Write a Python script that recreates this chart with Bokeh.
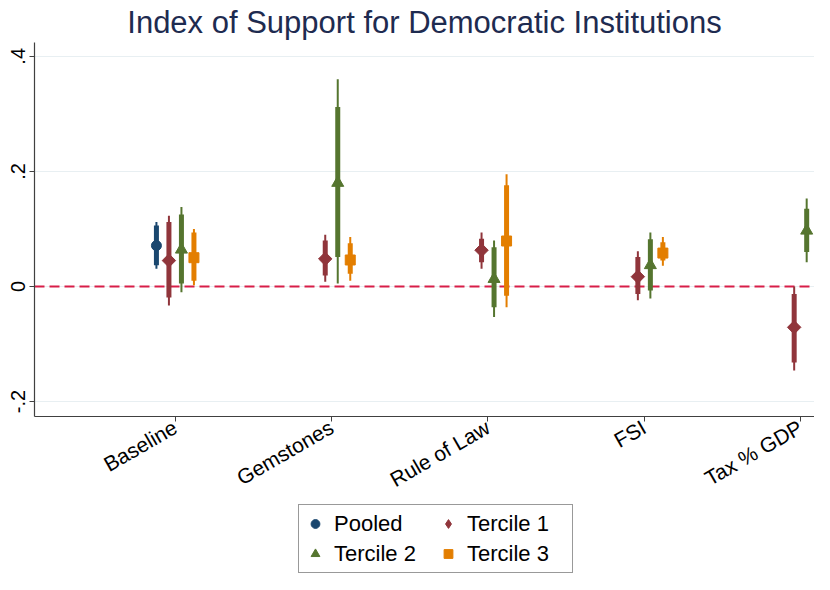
import numpy as np
from bokeh.plotting import figure
from bokeh.layouts import column
from bokeh.models import Range1d, FixedTicker, Span, Legend, LegendItem, ColumnDataSource
from bokeh.embed import file_html
from bokeh.resources import INLINE

# ---------------- data ----------------
categories = ["Baseline", "Gemstones", "Rule of Law", "FSI", "Tax % GDP"]
y_ticks = [-0.2, 0.0, 0.2, 0.4]
y_tick_labels = ["-.2", "0", ".2", ".4"]
series_names = ["Pooled", "Tercile 1", "Tercile 2", "Tercile 3"]

nan = float("nan")
# point estimates
pooled_est = [0.071, nan, nan, nan, nan]
t1_est = [0.045, 0.048, 0.063, 0.017, -0.071]
t2_est = [0.064, 0.180, 0.013, 0.037, 0.097]
t3_est = [0.050, 0.046, 0.079, 0.058, nan]
# 95% confidence intervals (thin)
pooled_lo95 = [0.031, nan, nan, nan, nan]
pooled_hi95 = [0.112, nan, nan, nan, nan]
t1_lo95 = [-0.033, 0.008, 0.031, -0.024, -0.146]
t1_hi95 = [0.123, 0.090, 0.094, 0.061, 0.000]
t2_lo95 = [-0.010, 0.005, -0.053, -0.021, 0.042]
t2_hi95 = [0.138, 0.360, 0.080, 0.094, 0.153]
t3_lo95 = [0.002, 0.010, -0.036, 0.036, nan]
t3_hi95 = [0.100, 0.086, 0.195, 0.086, nan]
# 90% confidence intervals (thick)
pooled_lo90 = [0.037, nan, nan, nan, nan]
pooled_hi90 = [0.106, nan, nan, nan, nan]
t1_lo90 = [-0.019, 0.019, 0.042, -0.013, -0.132]
t1_hi90 = [0.112, 0.080, 0.083, 0.051, -0.013]
t2_lo90 = [0.005, 0.051, -0.036, -0.007, 0.060]
t2_hi90 = [0.125, 0.312, 0.068, 0.082, 0.135]
t3_lo90 = [0.010, 0.022, -0.016, 0.045, nan]
t3_hi90 = [0.094, 0.075, 0.176, 0.077, nan]

# ---------------- styles ----------------
styles = [
    dict(color="#1a476f", marker="circle", size=10, angle=0.0, lmarker="circle", offset=-0.12),
    dict(color="#90353b", marker="square", size=9.5, angle=np.pi / 4, lmarker="diamond", offset=-0.04),
    dict(color="#55752f", marker="triangle", size=12, angle=0.0, lmarker="triangle", offset=0.04),
    dict(color="#e37e00", marker="square", size=10, angle=0.0, lmarker="square", offset=0.12),
]
data = [
    (pooled_est, pooled_lo95, pooled_hi95, pooled_lo90, pooled_hi90),
    (t1_est, t1_lo95, t1_hi95, t1_lo90, t1_hi90),
    (t2_est, t2_lo95, t2_hi95, t2_lo90, t2_hi90),
    (t3_est, t3_lo95, t3_hi95, t3_lo90, t3_hi90),
]

FONT = "Liberation Sans"

p = figure(width=814, height=503, output_backend="svg", toolbar_location=None,
           x_range=Range1d(0.1, 5.09), y_range=Range1d(-0.226, 0.424),
           min_border_left=34, min_border_right=0, min_border_top=34)
p.background_fill_color = "white"
p.border_fill_color = "white"
p.outline_line_color = None

p.title.text = "Index of Support for Democratic Institutions"
p.title.align = "center"
p.title.offset = 14
p.title.text_font = FONT
p.title.text_font_size = "31px"
p.title.text_font_style = "normal"
p.title.text_color = "#1e2b50"
p.title.standoff = 5

# axes
p.xaxis.ticker = FixedTicker(ticks=list(range(1, len(categories) + 1)))
p.xaxis.major_label_overrides = {i + 1: c for i, c in enumerate(categories)}
p.xaxis.major_label_orientation = np.pi / 6
p.yaxis.ticker = FixedTicker(ticks=y_ticks)
p.yaxis.major_label_overrides = {t: l for t, l in zip(y_ticks, y_tick_labels)}
p.yaxis.major_label_orientation = "vertical"
for ax in (p.xaxis, p.yaxis):
    ax.axis_line_color = "#404040"
    ax.axis_line_width = 1.2
    ax.major_tick_line_color = "#404040"
    ax.major_tick_in = 0
    ax.major_tick_out = 5
    ax.minor_tick_line_color = None
    ax.major_label_text_font = FONT
    ax.major_label_text_color = "black"
    ax.major_label_standoff = 4
p.xaxis.major_label_text_font_size = "21px"
p.yaxis.major_label_text_font_size = "20px"

p.xgrid.grid_line_color = None
p.ygrid.grid_line_color = "#e8eff2"
p.ygrid.grid_line_width = 1.2

zero = Span(location=0, dimension="width", line_color="#d81e48", line_width=2,
            line_dash="10 5", level="underlay")
p.add_layout(zero)

for st, (est, lo95, hi95, lo90, hi90) in zip(styles, data):
    xs = np.arange(1, len(categories) + 1) + st["offset"]
    src = ColumnDataSource(dict(x=xs, est=est, lo95=lo95, hi95=hi95, lo90=lo90, hi90=hi90))
    p.segment(x0="x", y0="lo95", x1="x", y1="hi95", source=src,
              line_color=st["color"], line_width=2)
    p.segment(x0="x", y0="lo90", x1="x", y1="hi90", source=src,
              line_color=st["color"], line_width=5, line_cap="butt")
    p.scatter(x="x", y="est", source=src, marker=st["marker"], size=st["size"],
              angle=st["angle"], fill_color=st["color"], line_color=st["color"])

# ---------------- legend strip ----------------
leg = figure(width=814, height=71, output_backend="svg", toolbar_location=None,
             x_range=Range1d(0, 1), y_range=Range1d(0, 1),
             x_axis_type=None, y_axis_type=None, min_border=0)
leg.outline_line_color = None
leg.grid.visible = False
leg.background_fill_color = "white"
leg.border_fill_color = "white"

leg_renderers = []
for st in styles:
    r = leg.scatter(x=[nan], y=[nan], marker=st["lmarker"],
                    fill_color=st["color"], line_color=st["color"])
    leg_renderers.append(r)

# column-major fill: column 1 = Pooled, Tercile 2; column 2 = Tercile 1, Tercile 3
legend_order = [0, 2, 1, 3]
legend = Legend(
    items=[LegendItem(label=series_names[i], renderers=[leg_renderers[i]]) for i in legend_order],
    ncols=2, location=(264, 1), orientation="vertical",
    label_text_font=FONT, label_text_font_size="22px", label_text_color="black",
    glyph_width=22, glyph_height=27, label_height=27, label_width=100,
    label_standoff=8, spacing=3, padding=5, margin=0,
    border_line_color="#333333", border_line_width=1, background_fill_color="white",
)
leg.add_layout(legend, "center")

layout = column(p, leg, spacing=0)
open("out.html", "w").write(file_html(layout, INLINE))
